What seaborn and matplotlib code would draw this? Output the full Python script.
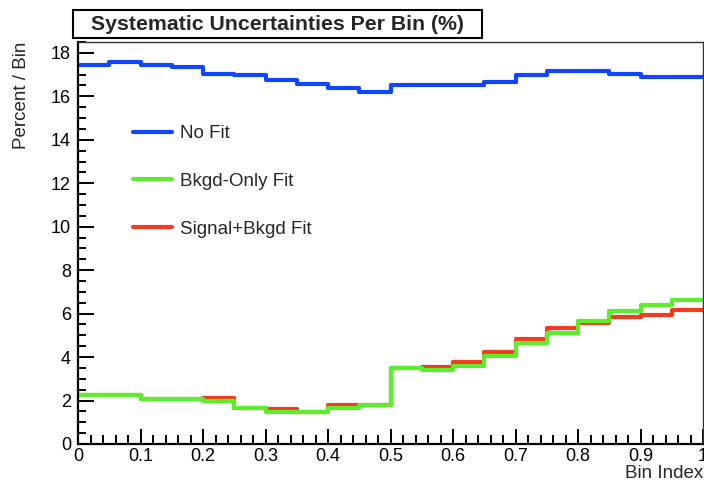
import numpy as np
import pandas as pd
import matplotlib
matplotlib.use("Agg")
import matplotlib.pyplot as plt
from matplotlib.patches import Rectangle
from matplotlib.lines import Line2D
from matplotlib.ticker import MultipleLocator, FuncFormatter
import seaborn as sns

# Systematic uncertainty per bin, 20 bins over [0, 1]
n_bins = 20
bin_range = (0.0, 1.0)
no_fit = [17.45, 17.56, 17.45, 17.36, 17.05, 16.96, 16.77, 16.59, 16.39, 16.20,
          16.52, 16.52, 16.52, 16.68, 16.97, 17.17, 17.17, 17.05, 16.88, 16.88]
bkgd_only_fit = [2.26, 2.26, 2.06, 2.06, 1.98, 1.67, 1.47, 1.47, 1.67, 1.80,
                 3.48, 3.41, 3.61, 4.07, 4.63, 5.13, 5.65, 6.12, 6.40, 6.61]
signal_bkgd_fit = [2.26, 2.26, 2.06, 2.06, 2.10, 1.67, 1.63, 1.47, 1.80, 1.80,
                   3.48, 3.53, 3.76, 4.22, 4.85, 5.33, 5.58, 5.85, 5.94, 6.15]
series_labels = ["No Fit", "Bkgd-Only Fit", "Signal+Bkgd Fit"]
series_colors = ["#0f46ff", "#5bee2b", "#f23d1c"]

sns.set_theme(style="ticks")
plt.rcParams["font.family"] = ["Liberation Sans", "DejaVu Sans"]

fig = plt.figure(figsize=(7.04, 4.84), dpi=100)
W, H = 704, 484
ax = fig.add_axes([78 / W, (H - 444) / H, (703 - 78) / W, (444 - 42) / H])

edges = np.linspace(bin_range[0], bin_range[1], n_bins + 1)
centers = 0.5 * (edges[:-1] + edges[1:])
df = pd.DataFrame({
    "bin": np.tile(centers, 3),
    "value": no_fit + signal_bkgd_fit + bkgd_only_fit,
    "series": np.repeat(["No Fit", "Signal+Bkgd Fit", "Bkgd-Only Fit"], n_bins),
})

# draw order: blue, red, green (green sits on top of red)
for name in ["No Fit", "Signal+Bkgd Fit", "Bkgd-Only Fit"]:
    sub = df[df["series"] == name]
    color = series_colors[series_labels.index(name)]
    sns.histplot(data=sub, x="bin", weights="value", bins=n_bins,
                 binrange=bin_range, element="step", fill=False,
                 color=color, linewidth=3.0, ax=ax)

ax.set_xlim(0, 1)
ax.set_ylim(0, 18.5)
ax.set_xlabel("")
ax.set_ylabel("")

ax.xaxis.set_major_locator(MultipleLocator(0.1))
ax.xaxis.set_minor_locator(MultipleLocator(0.02))
ax.yaxis.set_major_locator(MultipleLocator(2))
ax.yaxis.set_minor_locator(MultipleLocator(0.5))
ax.xaxis.set_major_formatter(FuncFormatter(lambda v, p: f"{v:g}"))
ax.yaxis.set_major_formatter(FuncFormatter(lambda v, p: f"{v:g}"))

ax.tick_params(axis="both", which="both", direction="in", colors="black",
               top=False, right=False, bottom=True, left=True, width=1.4)
ax.tick_params(axis="x", which="major", length=11, labelsize=13, pad=3)
ax.tick_params(axis="x", which="minor", length=6.5)
ax.tick_params(axis="y", which="major", length=11.5, labelsize=13, pad=5)
ax.tick_params(axis="y", which="minor", length=6)

for side in ["left", "bottom"]:
    ax.spines[side].set_visible(True)
    ax.spines[side].set_linewidth(1.6)
    ax.spines[side].set_color("black")
for side in ["top", "right"]:
    ax.spines[side].set_visible(True)
    ax.spines[side].set_linewidth(1.0)
    ax.spines[side].set_color("#333333")

# axis titles
fig.text(703 / W, 1 - 474 / H, "Bin Index", ha="right", va="center",
         fontsize=13.5)
fig.text(22 / W, 1 - 42 / H, "Percent / Bin", ha="center", va="top",
         rotation=90, fontsize=13.5)

# legend
leg_handles = [Line2D([], [], color=c, linewidth=3.0) for c in series_colors]
fig.legend(leg_handles, series_labels, loc="upper left",
           bbox_to_anchor=(133 / W, 1 - 125 / H), frameon=False,
           fontsize=13.5, handlelength=2.1, handletextpad=0.4,
           labelspacing=1.64, borderpad=0, borderaxespad=0)

# title box
fig.patches.append(Rectangle((73 / W, 1 - 38 / H), (482 - 73) / W, 28 / H,
                             transform=fig.transFigure, facecolor="white",
                             edgecolor="black", linewidth=1.5))
fig.text(277 / W, 1 - 25 / H, "Systematic Uncertainties Per Bin (%)",
         ha="center", va="center", fontsize=15.3, fontweight="bold")

fig.savefig("out.png", dpi=100)
